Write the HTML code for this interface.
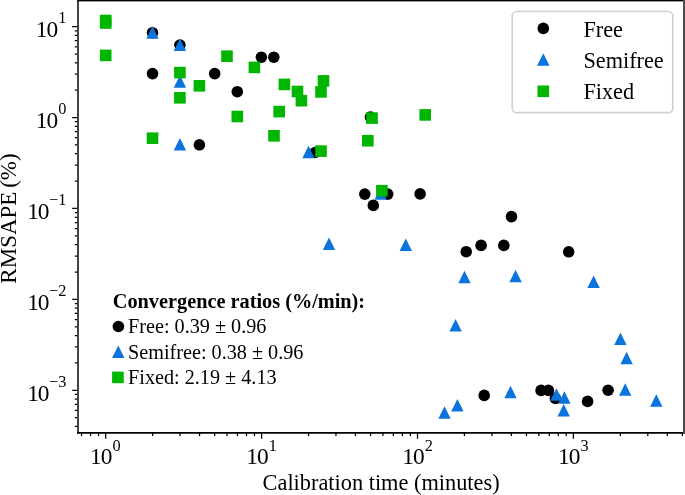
<!DOCTYPE html>
<html><head><meta charset="utf-8"><title>Convergence ratios</title>
<style>html,body{margin:0;padding:0;background:#fff}svg{display:block;will-change:transform}text{font-family:"Liberation Serif","Times New Roman",serif;fill:#000}</style></head><body>
<svg width="685" height="495" viewBox="0 0 685 495">
<rect width="685" height="495" fill="#fff"/>
<path d="M81.55 432.90v3.2M90.59 432.90v3.2M98.57 432.90v3.2M105.70 432.90v5.8M152.63 432.90v3.2M180.08 432.90v3.2M199.56 432.90v3.2M214.67 432.90v3.2M227.01 432.90v3.2M237.45 432.90v3.2M246.49 432.90v3.2M254.47 432.90v3.2M261.60 432.90v5.8M308.53 432.90v3.2M335.98 432.90v3.2M355.46 432.90v3.2M370.57 432.90v3.2M382.91 432.90v3.2M393.35 432.90v3.2M402.39 432.90v3.2M410.37 432.90v3.2M417.50 432.90v5.8M464.43 432.90v3.2M491.88 432.90v3.2M511.36 432.90v3.2M526.47 432.90v3.2M538.81 432.90v3.2M549.25 432.90v3.2M558.29 432.90v3.2M566.27 432.90v3.2M573.40 432.90v5.8M620.33 432.90v3.2M647.78 432.90v3.2M667.26 432.90v3.2M682.37 432.90v3.2M78.00 426.49h-3.2M78.00 417.68h-3.2M78.00 410.48h-3.2M78.00 404.39h-3.2M78.00 399.12h-3.2M78.00 394.47h-3.2M78.00 390.31h-5.8M78.00 362.94h-3.2M78.00 346.93h-3.2M78.00 335.57h-3.2M78.00 326.76h-3.2M78.00 319.56h-3.2M78.00 313.47h-3.2M78.00 308.20h-3.2M78.00 303.55h-3.2M78.00 299.39h-5.8M78.00 272.02h-3.2M78.00 256.01h-3.2M78.00 244.65h-3.2M78.00 235.84h-3.2M78.00 228.64h-3.2M78.00 222.55h-3.2M78.00 217.28h-3.2M78.00 212.63h-3.2M78.00 208.47h-5.8M78.00 181.10h-3.2M78.00 165.09h-3.2M78.00 153.73h-3.2M78.00 144.92h-3.2M78.00 137.72h-3.2M78.00 131.63h-3.2M78.00 126.36h-3.2M78.00 121.71h-3.2M78.00 117.55h-5.8M78.00 90.18h-3.2M78.00 74.17h-3.2M78.00 62.81h-3.2M78.00 54.00h-3.2M78.00 46.80h-3.2M78.00 40.71h-3.2M78.00 35.44h-3.2M78.00 30.79h-3.2M78.00 26.63h-5.8" stroke="#000" stroke-width="1.25" fill="none"/>
<g fill="#000"><circle cx="152.50" cy="32.70" r="5.8"/><circle cx="179.90" cy="45.00" r="5.8"/><circle cx="152.50" cy="73.60" r="5.8"/><circle cx="214.70" cy="73.60" r="5.8"/><circle cx="237.30" cy="91.70" r="5.8"/><circle cx="261.40" cy="57.20" r="5.8"/><circle cx="273.80" cy="57.20" r="5.8"/><circle cx="199.40" cy="144.80" r="5.8"/><circle cx="315.10" cy="152.50" r="5.8"/><circle cx="370.40" cy="117.10" r="5.8"/><circle cx="364.80" cy="194.10" r="5.8"/><circle cx="373.30" cy="205.40" r="5.8"/><circle cx="387.70" cy="194.10" r="5.8"/><circle cx="420.10" cy="193.90" r="5.8"/><circle cx="466.20" cy="251.70" r="5.8"/><circle cx="481.10" cy="245.40" r="5.8"/><circle cx="503.80" cy="245.40" r="5.8"/><circle cx="511.50" cy="216.60" r="5.8"/><circle cx="568.70" cy="251.80" r="5.8"/><circle cx="484.20" cy="395.40" r="5.8"/><circle cx="541.10" cy="390.40" r="5.8"/><circle cx="548.40" cy="390.40" r="5.8"/><circle cx="555.40" cy="398.40" r="5.8"/><circle cx="587.60" cy="401.40" r="5.8"/><circle cx="608.10" cy="390.20" r="5.8"/></g>
<g fill="#0a73de"><path d="M152.50 26.15L158.70 38.65H146.30Z"/><path d="M179.90 38.45L186.10 50.95H173.70Z"/><path d="M179.90 75.25L186.10 87.75H173.70Z"/><path d="M179.90 138.05L186.10 150.55H173.70Z"/><path d="M308.50 145.85L314.70 158.35H302.30Z"/><path d="M371.90 110.65L378.10 123.15H365.70Z"/><path d="M380.70 187.35L386.90 199.85H374.50Z"/><path d="M329.00 237.55L335.20 250.05H322.80Z"/><path d="M405.80 238.55L412.00 251.05H399.60Z"/><path d="M464.50 270.65L470.70 283.15H458.30Z"/><path d="M515.60 269.65L521.80 282.15H509.40Z"/><path d="M593.60 275.55L599.80 288.05H587.40Z"/><path d="M455.60 319.05L461.80 331.55H449.40Z"/><path d="M444.50 406.25L450.70 418.75H438.30Z"/><path d="M457.40 399.05L463.60 411.55H451.20Z"/><path d="M510.50 385.75L516.70 398.25H504.30Z"/><path d="M556.40 388.35L562.60 400.85H550.20Z"/><path d="M564.40 391.35L570.60 403.85H558.20Z"/><path d="M563.70 404.05L569.90 416.55H557.50Z"/><path d="M620.40 332.45L626.60 344.95H614.20Z"/><path d="M626.60 351.65L632.80 364.15H620.40Z"/><path d="M625.20 383.35L631.40 395.85H619.00Z"/><path d="M656.30 394.15L662.50 406.65H650.10Z"/></g>
<g fill="#00b600"><rect x="99.90" y="14.70" width="11.6" height="11.6"/><rect x="99.90" y="17.20" width="11.6" height="11.6"/><rect x="99.90" y="49.60" width="11.6" height="11.6"/><rect x="146.70" y="132.40" width="11.6" height="11.6"/><rect x="174.10" y="66.80" width="11.6" height="11.6"/><rect x="174.10" y="92.00" width="11.6" height="11.6"/><rect x="193.60" y="80.00" width="11.6" height="11.6"/><rect x="221.20" y="50.40" width="11.6" height="11.6"/><rect x="231.50" y="110.70" width="11.6" height="11.6"/><rect x="248.60" y="61.60" width="11.6" height="11.6"/><rect x="273.40" y="105.80" width="11.6" height="11.6"/><rect x="268.20" y="130.00" width="11.6" height="11.6"/><rect x="278.60" y="78.60" width="11.6" height="11.6"/><rect x="291.70" y="85.70" width="11.6" height="11.6"/><rect x="295.60" y="94.90" width="11.6" height="11.6"/><rect x="317.70" y="75.10" width="11.6" height="11.6"/><rect x="315.20" y="86.10" width="11.6" height="11.6"/><rect x="315.20" y="145.30" width="11.6" height="11.6"/><rect x="366.20" y="112.30" width="11.6" height="11.6"/><rect x="362.00" y="134.90" width="11.6" height="11.6"/><rect x="419.40" y="109.10" width="11.6" height="11.6"/><rect x="376.10" y="184.90" width="11.6" height="11.6"/></g>
<rect x="77" y="0" width="2" height="433.7" fill="#424242"/>
<path d="M77 432.9H685" stroke="#000" stroke-width="1.6" fill="none"/>
<rect x="77" y="0" width="608" height="1.4" fill="#000"/>
<rect x="683" y="0" width="2" height="433.7" fill="#4d4d4d"/>
<rect x="512.2" y="11.45" width="160.55" height="101.2" rx="4.4" fill="#fff" stroke="#d0d0d0" stroke-width="1.6"/>
<g fill="#000"><circle cx="543.30" cy="28.40" r="5.8"/></g>
<g fill="#0a73de"><path d="M543.30 53.35L549.50 65.85H537.10Z"/></g>
<g fill="#00b600"><rect x="537.50" y="85.50" width="11.6" height="11.6"/></g>
<g font-size="22.25px"><text x="583.4" y="36.6">Free</text><text x="583.4" y="67.9">Semifree</text><text x="583.4" y="99.1">Fixed</text></g>
<text x="89.95" y="463.70" font-size="23.4px" dx="0 -1">10<tspan font-size="16.3px" dx="0.1" dy="-12.7">0</tspan></text>
<text x="246.30" y="463.70" font-size="23.4px" dx="0 -1">10<tspan font-size="16.3px" dx="0.1" dy="-12.7">1</tspan></text>
<text x="402.20" y="463.70" font-size="23.4px" dx="0 -1">10<tspan font-size="16.3px" dx="0.1" dy="-12.7">2</tspan></text>
<text x="558.10" y="463.70" font-size="23.4px" dx="0 -1">10<tspan font-size="16.3px" dx="0.1" dy="-12.7">3</tspan></text>
<text x="35.85" y="37.13" font-size="23.4px" dx="0 -1">10<tspan font-size="16.3px" dx="0.1" dy="-13.7">1</tspan></text>
<text x="35.85" y="128.05" font-size="23.4px" dx="0 -1">10<tspan font-size="16.3px" dx="0.1" dy="-13.7">0</tspan></text>
<text x="27.15" y="218.87" font-size="23.4px" dx="0 -1">10<tspan font-size="16.3px" dx="-0.5" dy="-13.7">−1</tspan></text>
<text x="27.15" y="309.79" font-size="23.4px" dx="0 -1">10<tspan font-size="16.3px" dx="-0.5" dy="-13.7">−2</tspan></text>
<text x="27.15" y="400.71" font-size="23.4px" dx="0 -1">10<tspan font-size="16.3px" dx="-0.5" dy="-13.7">−3</tspan></text>
<text x="381.1" y="490" text-anchor="middle" font-size="22.35px">Calibration time (minutes)</text>
<text transform="translate(15.5 218.5) rotate(-90)" text-anchor="middle" font-size="23px" word-spacing="-2">RMSAPE (%)</text>
<text x="112.8" y="307.5" font-size="20.3px" font-weight="bold">Convergence ratios (%/min):</text>
<g fill="#000"><circle cx="118.40" cy="326.50" r="5.8"/></g>
<g fill="#0a73de"><path d="M118.30 345.55L124.50 358.05H112.10Z"/></g>
<g fill="#00b600"><rect x="112.10" y="371.60" width="11.6" height="11.6"/></g>
<g font-size="20.2px"><text x="128.1" y="333.4">Free: 0.39 ± 0.96</text><text x="128.1" y="358.6">Semifree: 0.38 ± 0.96</text><text x="128.1" y="383.5">Fixed: 2.19 ± 4.13</text></g>
</svg></body></html>
